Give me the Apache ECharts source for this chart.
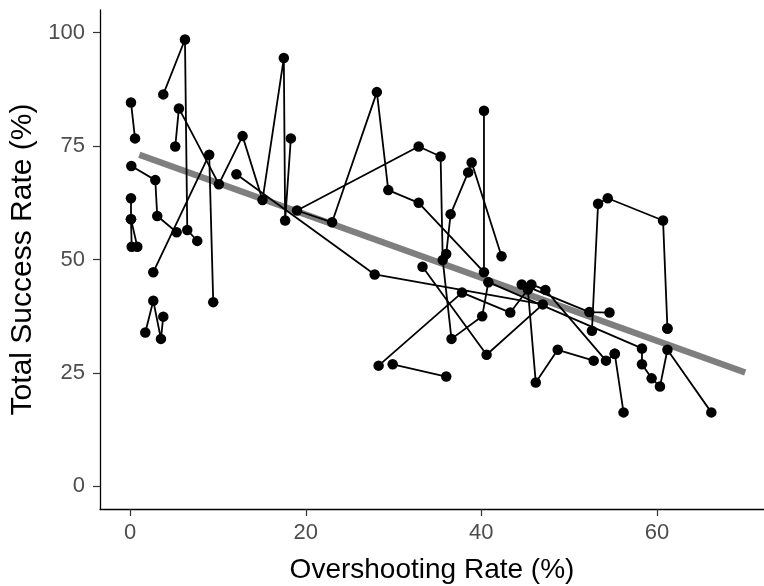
<!DOCTYPE html>
<html><head><meta charset="utf-8">
<script src="https://cdn.jsdelivr.net/npm/echarts@6/dist/echarts.min.js"></script>
<style>html,body{margin:0;padding:0;background:#fff}#c{width:764px;height:586px}</style>
</head><body><div id="c"></div>
<script>
// path (participant) id for each point, in drawing order
const pathId = [
  1,1,
  2,2,2,2,
  3,3,3,3,
  4,4,4,4,4,4,4,4,
  5,5,5,
  6,6,6,
  7,7,
  8,8,8,8,
  9,9,9,9,9,
  10,10,10,10,10,10,10,10,10,10,10,10,10,10,10,10,10,10,10,
  11,11,11,11,11,
  12,12,12,12,12,12,12,
  13,13,13,13,13,13,13,
  14,14,14,14,14,14,
  15,15,
  16,16
];
const overshootingRate = [
  0.09,0.55,
  0.13,2.86,3.08,5.29,
  3.77,6.24,6.5,7.64,
  5.13,5.55,10.1,12.8,15.07,17.5,17.65,18.3,
  2.63,9.0,9.46,
  0.09,0.09,0.17,
  0.09,0.81,
  1.72,2.63,3.5,3.77,
  12.1,27.85,47.0,40.6,33.3,
  40.3,40.3,32.86,29.4,28.1,23.0,19.0,32.86,35.36,35.6,36.6,40.1,40.8,58.3,58.3,59.4,60.35,61.2,66.2,
  42.3,38.9,38.5,36.5,36.0,
  28.3,37.8,43.3,45.3,46.2,48.7,52.8,
  54.6,52.3,44.6,45.7,47.3,54.2,55.2,
  52.6,53.3,54.4,60.7,61.2,61.2,
  29.9,36.0,
  55.2,56.2
];
const totalSuccessRate = [
  84.6,76.7,
  70.6,67.5,59.6,56.0,
  86.4,98.5,56.5,54.1,
  74.9,83.3,66.6,77.2,63.1,94.4,58.6,76.7,
  47.2,73.1,40.6,
  63.5,58.9,52.8,
  58.9,52.8,
  33.9,40.9,32.5,37.4,
  68.8,46.7,40.1,29.0,48.4,
  82.8,47.2,62.5,65.3,86.9,58.2,60.8,74.9,72.7,49.9,32.5,37.5,45.0,30.4,26.9,23.8,22.0,30.1,16.3,
  50.7,71.4,69.2,60.0,51.2,
  26.6,42.7,38.3,43.4,22.9,30.1,27.7,
  38.3,38.4,44.5,44.5,43.3,27.7,29.2,
  34.3,62.3,63.5,58.6,34.8,34.8,
  26.9,24.2,
  29.2,16.3
];
// linear trend line end points
const trendX = [1.04, 70.06];
const trendY = [73.1, 25.1];
const xTicks = [0, 20, 40, 60];
const yTicks = [0, 25, 50, 75, 100];

const groups = {};
pathId.forEach((g, i) => {
  (groups[g] = groups[g] || []).push([overshootingRate[i], totalSuccessRate[i]]);
});
const series = [{
  type: 'line',
  data: trendX.map((x, i) => [x, trendY[i]]),
  showSymbol: false, symbol: 'none',
  lineStyle: { color: '#7f7f7f', width: 6.5 },
  z: 1, silent: true
}];
Object.keys(groups).forEach(g => {
  series.push({
    type: 'line', data: groups[g],
    symbol: 'circle', symbolSize: 10.5,
    itemStyle: { color: '#000' },
    lineStyle: { color: '#000', width: 1.8 },
    z: 3, silent: true
  });
});
const font = 'Liberation Sans, Arial, sans-serif';
const chart = echarts.init(document.getElementById('c'), null, { renderer: 'canvas' });
chart.setOption({
  animation: false,
  backgroundColor: '#fff',
  grid: { left: 100, right: 0, top: 10, bottom: 77, outerBoundsMode: 'none', containLabel: false },
  xAxis: {
    type: 'value', min: -3.44, max: 72.2,
    axisLine: { show: true, onZero: false, lineStyle: { color: '#000', width: 1.3 } },
    axisTick: { show: true, customValues: xTicks, length: 7, lineStyle: { color: '#333', width: 1.2 } },
    axisLabel: { customValues: xTicks, fontSize: 22, color: '#4D4D4D', margin: 13, fontFamily: font },
    splitLine: { show: false },
    name: 'Overshooting Rate (%)', nameLocation: 'middle', nameGap: 47,
    nameTextStyle: { fontSize: 28, color: '#000', fontFamily: font }
  },
  yAxis: {
    type: 'value', min: -5, max: 105,
    axisLine: { show: true, onZero: false, lineStyle: { color: '#000', width: 1.3 } },
    axisTick: { show: true, customValues: yTicks, length: 7, lineStyle: { color: '#333', width: 1.2 } },
    axisLabel: { customValues: yTicks, fontSize: 22, color: '#4D4D4D', margin: 15, fontFamily: font },
    splitLine: { show: false },
    name: 'Total Success Rate (%)', nameLocation: 'middle', nameGap: 56, nameRotate: 90,
    nameTextStyle: { fontSize: 30, color: '#000', fontFamily: font }
  },
  series: series
});
</script></body></html>
